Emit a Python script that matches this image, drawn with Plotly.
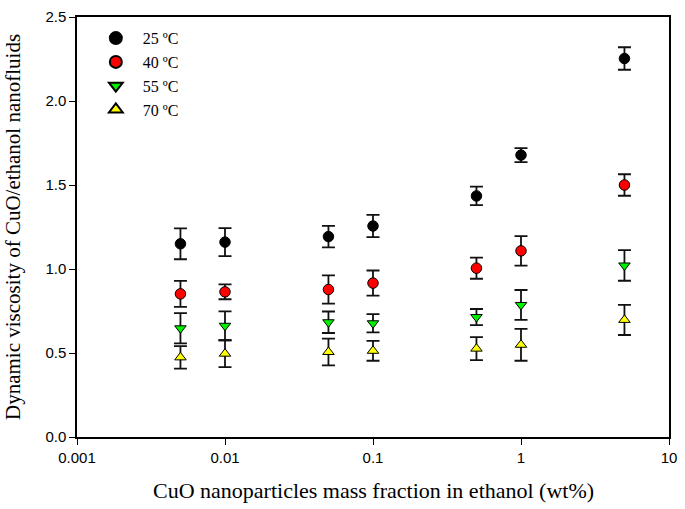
import plotly.graph_objects as go

mass_fraction = [0.005, 0.01, 0.05, 0.1, 0.5, 1, 5]

visc_25 = [1.150, 1.160, 1.193, 1.256, 1.435, 1.678, 2.253]
err_25 = [0.092, 0.083, 0.064, 0.066, 0.055, 0.042, 0.067]

visc_40 = [0.852, 0.864, 0.878, 0.916, 1.005, 1.108, 1.500]
err_40 = [0.077, 0.044, 0.084, 0.075, 0.063, 0.088, 0.064]

visc_55 = [0.647, 0.662, 0.683, 0.677, 0.714, 0.786, 1.021]
err_55 = [0.090, 0.086, 0.064, 0.054, 0.048, 0.089, 0.091]

visc_70 = [0.474, 0.496, 0.506, 0.513, 0.526, 0.549, 0.697]
err_70 = [0.067, 0.080, 0.080, 0.059, 0.069, 0.095, 0.090]

x_ticks = [0.001, 0.01, 0.1, 1, 10]
x_tick_labels = ["0.001", "0.01", "0.1", "1", "10"]
y_ticks = [0.0, 0.5, 1.0, 1.5, 2.0, 2.5]

series = [
    ("25 \u00baC", visc_25, err_25, "circle", "#000000", 10.5),
    ("40 \u00baC", visc_40, err_40, "circle", "#ff0000", 10.5),
    ("55 \u00baC", visc_55, err_55, "triangle-down", "#00f000", 10),
    ("70 \u00baC", visc_70, err_70, "triangle-up", "#ffff00", 10),
]

fig = go.Figure()
for name, vals, errs, sym, col, size in series:
    fig.add_trace(go.Scatter(
        x=mass_fraction, y=vals, mode="markers", name=name,
        marker=dict(symbol=sym, color=col, size=size,
                    line=dict(color="#000000", width=1)),
        error_y=dict(type="data", array=errs, visible=True,
                     color="#111111", thickness=1.8, width=6.5),
    ))

fig.update_layout(
    width=685, height=509,
    margin=dict(l=77, r=12, t=8, b=72),
    plot_bgcolor="white", paper_bgcolor="white",
    showlegend=True,
    legend=dict(x=0.02, y=0.99, xanchor="left", yanchor="top",
                bgcolor="rgba(0,0,0,0)", itemwidth=44,
                font=dict(family="Liberation Serif", size=16, color="#000"),
                itemsizing="constant"),
    font=dict(family="Liberation Sans", size=15, color="#000"),
)
fig.update_xaxes(
    type="log", range=[-3, 1],
    tickvals=x_ticks, ticktext=x_tick_labels,
    ticks="outside", ticklen=6, tickwidth=1.2, tickcolor="#000",
    showline=True, linecolor="#000", linewidth=1.5, mirror=True,
    showgrid=False, zeroline=False,
    tickfont=dict(family="Liberation Sans", size=15),
)
fig.update_yaxes(
    range=[0, 2.5], tickvals=y_ticks, tickformat=".1f",
    ticks="outside", ticklen=6, tickwidth=1.2, tickcolor="#000",
    showline=True, linecolor="#000", linewidth=1.5, mirror=True,
    showgrid=False, zeroline=False,
    tickfont=dict(family="Liberation Sans", size=15),
)
fig.add_annotation(
    text="CuO nanoparticles mass fraction in ethanol (wt%)",
    xref="paper", yref="paper", x=0.5, y=0, yshift=-39,
    xanchor="center", yanchor="top", showarrow=False,
    font=dict(family="Liberation Serif", size=22, color="#000"),
)
fig.add_annotation(
    text="Dynamic viscosity of CuO/ethanol nanofluids",
    xref="paper", yref="paper", x=0, y=0.5, xshift=-64,
    xanchor="center", yanchor="middle", showarrow=False, textangle=-90,
    font=dict(family="Liberation Serif", size=21, color="#000"),
)

fig.write_html("out.html",
               config={"displayModeBar": False},
               post_script="document.body.style.margin='0';")
